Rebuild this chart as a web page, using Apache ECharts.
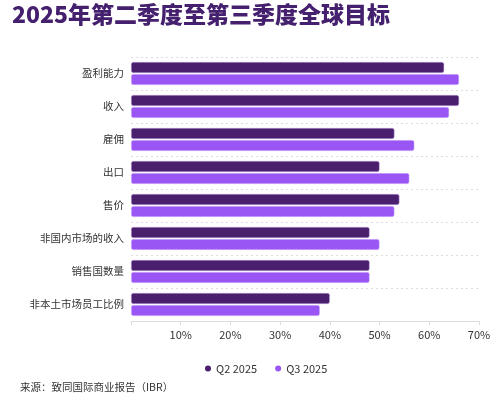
<!DOCTYPE html>
<html><head><meta charset="utf-8">
<script src="https://cdn.jsdelivr.net/npm/echarts@6/dist/echarts.min.js"></script>
<style>html,body{margin:0;padding:0;background:#fff}#c{width:500px;height:394px}</style>
</head><body><div id="c"></div>
<script>
const categories = ['盈利能力','收入','雇佣','出口','售价','非国内市场的收入','销售国数量','非本土市场员工比例'];
const q2 = [63,66,53,50,54,48,48,40];
const q3 = [66,64,57,56,53,50,48,38];
const seriesNames = ['Q2 2025','Q3 2025'];
const xTicks = [0,10,20,30,40,50,60,70];
const title = '2025年第二季度至第三季度全球目标';
const source = '来源：致同国际商业报告（IBR）';

const FONT = '"Noto Sans CJK SC","Noto Sans",sans-serif';
const chart = echarts.init(document.getElementById('c'), null, {renderer:'canvas'});
chart.setOption({
  animation:false,
  textStyle:{fontFamily:FONT},
  title:[{text:title,left:7,top:-2,textStyle:{fontSize:23,fontWeight:900,color:'#44206e',fontFamily:FONT}},
         {text:source,left:15,top:377,textStyle:{fontSize:10.5,fontWeight:'normal',color:'#333',fontFamily:FONT}}],
  legend:{data:seriesNames,left:200,top:358,icon:'circle',itemWidth:6,itemHeight:6,itemGap:18,
          itemStyle:{borderWidth:0},
          textStyle:{fontSize:11,color:'#333',fontFamily:FONT}},
  grid:{left:131,right:21,top:57,bottom:73,containLabel:false},
  xAxis:{type:'value',min:xTicks[0],max:xTicks[xTicks.length-1],interval:10,
    axisLine:{show:true,lineStyle:{color:'#ddd'}},
    axisTick:{show:true,length:4,lineStyle:{color:'#ddd'}},
    splitLine:{show:false},
    axisLabel:{fontSize:11,color:'#333',margin:8,formatter:v=>v===0?'':v+'%'}},
  yAxis:{type:'category',data:categories,inverse:true,
    axisLine:{show:false},axisTick:{show:false},
    splitLine:{show:true,lineStyle:{color:'#ddd',type:[2,3],width:1}},
    axisLabel:{fontSize:10.5,color:'#333',margin:7}},
  series:[
    {name:seriesNames[0],type:'bar',data:q2,barWidth:11,barGap:'10%',
     itemStyle:{color:'#4a1f6e',borderRadius:2,borderColor:'rgba(200,170,235,0.8)',borderWidth:0.6}},
    {name:seriesNames[1],type:'bar',data:q3,barWidth:11,barGap:'10%',
     itemStyle:{color:'#9a55f5',borderRadius:2,borderColor:'rgba(220,200,250,0.8)',borderWidth:0.6}}
  ]
});
</script></body></html>
